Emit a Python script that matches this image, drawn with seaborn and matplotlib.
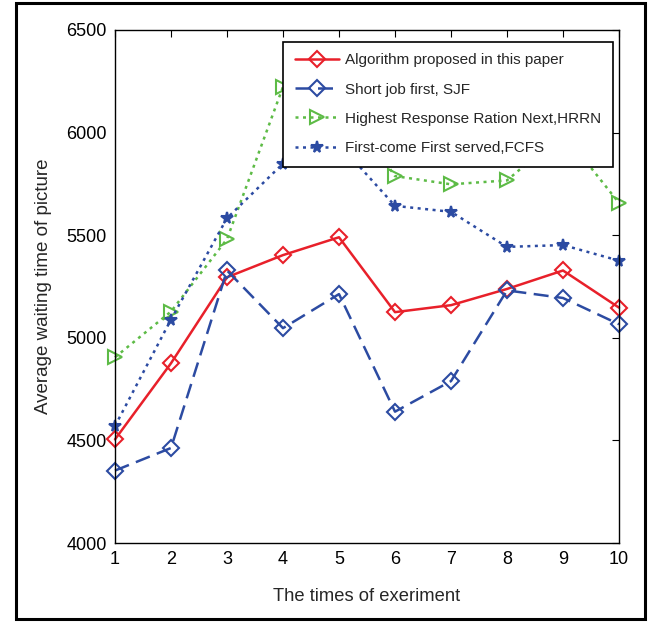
import matplotlib
matplotlib.use("Agg")
import matplotlib.pyplot as plt
import seaborn as sns
import pandas as pd
from matplotlib.patches import Rectangle

sns.set_theme(style="white")
plt.rcParams['font.family'] = ['Liberation Sans', 'DejaVu Sans']

experiments = [1, 2, 3, 4, 5, 6, 7, 8, 9, 10]
proposed = [4505, 4876, 5295, 5403, 5490, 5125, 5159, 5238, 5328, 5147]
sjf = [4353, 4463, 5328, 5047, 5213, 4640, 4789, 5231, 5194, 5066]
hrrn = [4905, 5128, 5481, 6223, 6180, 5788, 5748, 5767, 6000, 5657]
fcfs = [4570, 5089, 5583, 5849, 5945, 5643, 5614, 5443, 5452, 5376]

labels = ["Algorithm proposed in this paper",
          "Short job first, SJF",
          "Highest Response Ration Next,HRRN",
          "First-come First served,FCFS"]
yticks = [4000, 4500, 5000, 5500, 6000, 6500]

fig = plt.figure(figsize=(6.51, 6.22), dpi=100)
ax = fig.add_axes([115/651, 1-543/622, (619-115)/651, (543-30)/622])

red = "#E8202A"
blue = "#2C4BA2"
green = "#5DBB46"

styles = [
    (proposed, red, "-", "D", 8, "none"),
    (sjf, blue, (0, (6, 3)), "D", 8, "none"),
    (hrrn, green, (0, (1.2, 1.8)), ">", 9.5, "none"),
    (fcfs, blue, (0, (1.2, 1.8)), "*", 8.5, blue),
]
for (vals, col, ls, mk, ms, mfc), lab in zip(styles, labels):
    df = pd.DataFrame({"x": experiments, "y": vals})
    sns.lineplot(data=df, x="x", y="y", ax=ax, color=col, linestyle=ls,
                 linewidth=1.8, marker=mk, markersize=ms,
                 markerfacecolor=mfc, markeredgecolor=col,
                 markeredgewidth=1.5, label=lab, clip_on=False)

ax.set_xlim(1, 10)
ax.set_ylim(4000, 6500)
ax.set_xticks(experiments)
ax.set_yticks(yticks)
ax.tick_params(direction="in", top=True, right=True, length=5, width=0.8,
               labelsize=13, colors="black", pad=6)
for s in ax.spines.values():
    s.set_color("black")
    s.set_linewidth(1.0)
ax.set_xlabel("The times of exeriment", fontsize=13.2, labelpad=14)
ax.set_ylabel("Average waiting time of picture", fontsize=13.5, labelpad=10)

leg = ax.legend(loc="upper right", bbox_to_anchor=(0.988, 0.977), fontsize=11,
                frameon=True, fancybox=False, edgecolor="black", framealpha=1,
                facecolor="white", borderaxespad=0,
                handlelength=2.9, borderpad=0.75, labelspacing=1.0,
                handletextpad=0.4)
leg.get_frame().set_linewidth(1.2)
leg.set_zorder(10)

fig.patches.append(Rectangle((16/651, 1-619/622), (645-16)/651, (619-3)/622,
                             transform=fig.transFigure, fill=False,
                             edgecolor="black", linewidth=2.2))

fig.savefig("out.png", dpi=100, facecolor="white")
